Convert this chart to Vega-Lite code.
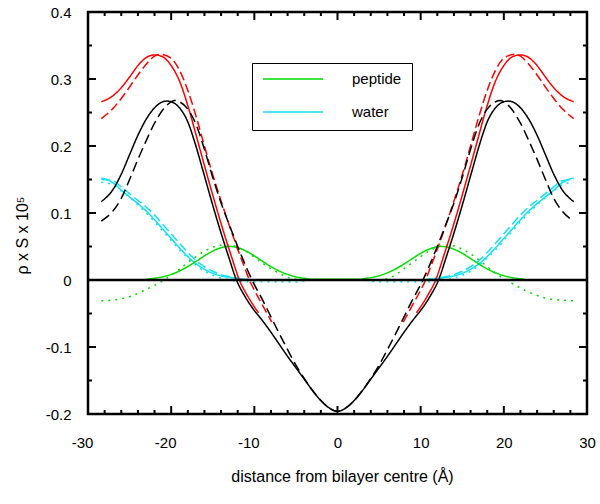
{
  "$schema": "https://vega.github.io/schema/vega-lite/v6.json",
  "width": 499,
  "height": 402,
  "autosize": {"type": "none"},
  "padding": {"left": 88, "top": 12, "right": 13, "bottom": 90},
  "config": {
    "font": "Liberation Sans",
    "view": {"stroke": "black", "strokeWidth": 2.5},
    "rule": {"strokeWidth": 2, "color": "black"},
    "axis": {"domain": false, "grid": false, "ticks": false, "labelFontSize": 15, "labelColor": "black", "titleFontSize": 16, "titleFontWeight": "normal", "titleColor": "black", "labelFont": "Liberation Sans", "titleFont": "Liberation Sans", "labelFlush": false, "labelOverlap": false}
  },
  "datasets": {
    "curves": [
    {"s":"water-dot","x":-28.4,"y":0.146},{"s":"water-dot","x":-27,"y":0.142},{"s":"water-dot","x":-26,"y":0.133},{"s":"water-dot","x":-25,"y":0.123},{"s":"water-dot","x":-24,"y":0.112},{"s":"water-dot","x":-23,"y":0.100},{"s":"water-dot","x":-22,"y":0.087},{"s":"water-dot","x":-21,"y":0.073},{"s":"water-dot","x":-20,"y":0.059},{"s":"water-dot","x":-19,"y":0.045},{"s":"water-dot","x":-18,"y":0.033},{"s":"water-dot","x":-17,"y":0.022},{"s":"water-dot","x":-16,"y":0.013},{"s":"water-dot","x":-15,"y":0.007},{"s":"water-dot","x":-14,"y":0.003},{"s":"water-dot","x":-13,"y":0.0},{"s":"water-dot","x":-12,"y":-0.002},{"s":"water-dot","x":-11,"y":-0.003},{"s":"water-dot","x":-5,"y":-0.003},{"s":"water-dot","x":-3,"y":0},{"s":"water-dot","x":3,"y":0},{"s":"water-dot","x":5,"y":-0.003},{"s":"water-dot","x":11,"y":-0.003},{"s":"water-dot","x":12,"y":-0.002},{"s":"water-dot","x":13,"y":0.0},{"s":"water-dot","x":14,"y":0.003},{"s":"water-dot","x":15,"y":0.007},{"s":"water-dot","x":16,"y":0.013},{"s":"water-dot","x":17,"y":0.022},{"s":"water-dot","x":18,"y":0.033},{"s":"water-dot","x":19,"y":0.045},{"s":"water-dot","x":20,"y":0.059},{"s":"water-dot","x":21,"y":0.073},{"s":"water-dot","x":22,"y":0.087},{"s":"water-dot","x":23,"y":0.100},{"s":"water-dot","x":24,"y":0.112},{"s":"water-dot","x":25,"y":0.123},{"s":"water-dot","x":26,"y":0.133},{"s":"water-dot","x":27,"y":0.142},{"s":"water-dot","x":28.4,"y":0.146},

    {"s":"peptide-dot","x":-28.4,"y":-0.031},{"s":"peptide-dot","x":-27,"y":-0.030},{"s":"peptide-dot","x":-26,"y":-0.028},{"s":"peptide-dot","x":-25,"y":-0.025},{"s":"peptide-dot","x":-24,"y":-0.020},{"s":"peptide-dot","x":-23,"y":-0.014},{"s":"peptide-dot","x":-22,"y":-0.008},{"s":"peptide-dot","x":-21,"y":-0.001},{"s":"peptide-dot","x":-20,"y":0.007},{"s":"peptide-dot","x":-19,"y":0.016},{"s":"peptide-dot","x":-18,"y":0.026},{"s":"peptide-dot","x":-17,"y":0.035},{"s":"peptide-dot","x":-16,"y":0.043},{"s":"peptide-dot","x":-15,"y":0.049},{"s":"peptide-dot","x":-14,"y":0.052},{"s":"peptide-dot","x":-13,"y":0.052},{"s":"peptide-dot","x":-12,"y":0.049},{"s":"peptide-dot","x":-11,"y":0.043},{"s":"peptide-dot","x":-10,"y":0.034},{"s":"peptide-dot","x":-9,"y":0.025},{"s":"peptide-dot","x":-8,"y":0.017},{"s":"peptide-dot","x":-7,"y":0.010},{"s":"peptide-dot","x":-6,"y":0.004},{"s":"peptide-dot","x":-5,"y":0.001},{"s":"peptide-dot","x":-4,"y":0},{"s":"peptide-dot","x":5,"y":0},{"s":"peptide-dot","x":6,"y":0.002},{"s":"peptide-dot","x":7,"y":0.008},{"s":"peptide-dot","x":8,"y":0.017},{"s":"peptide-dot","x":9,"y":0.026},{"s":"peptide-dot","x":10,"y":0.035},{"s":"peptide-dot","x":11,"y":0.043},{"s":"peptide-dot","x":12,"y":0.049},{"s":"peptide-dot","x":13,"y":0.052},{"s":"peptide-dot","x":14,"y":0.051},{"s":"peptide-dot","x":15,"y":0.046},{"s":"peptide-dot","x":16,"y":0.039},{"s":"peptide-dot","x":17,"y":0.030},{"s":"peptide-dot","x":18,"y":0.020},{"s":"peptide-dot","x":19,"y":0.010},{"s":"peptide-dot","x":20,"y":0.002},{"s":"peptide-dot","x":21,"y":-0.005},{"s":"peptide-dot","x":22,"y":-0.012},{"s":"peptide-dot","x":23,"y":-0.018},{"s":"peptide-dot","x":24,"y":-0.023},{"s":"peptide-dot","x":25,"y":-0.027},{"s":"peptide-dot","x":26,"y":-0.029},{"s":"peptide-dot","x":27,"y":-0.030},{"s":"peptide-dot","x":28.4,"y":-0.031},

    {"s":"water-dash","x":-28.4,"y":0.150},{"s":"water-dash","x":-27,"y":0.148},{"s":"water-dash","x":-26,"y":0.139},{"s":"water-dash","x":-25,"y":0.129},{"s":"water-dash","x":-24,"y":0.119},{"s":"water-dash","x":-23,"y":0.109},{"s":"water-dash","x":-22,"y":0.097},{"s":"water-dash","x":-21,"y":0.083},{"s":"water-dash","x":-20,"y":0.069},{"s":"water-dash","x":-19,"y":0.055},{"s":"water-dash","x":-18,"y":0.041},{"s":"water-dash","x":-17,"y":0.029},{"s":"water-dash","x":-16,"y":0.020},{"s":"water-dash","x":-15,"y":0.013},{"s":"water-dash","x":-14,"y":0.008},{"s":"water-dash","x":-13,"y":0.005},{"s":"water-dash","x":-12,"y":0.003},{"s":"water-dash","x":-11,"y":0.001},{"s":"water-dash","x":-10,"y":0},{"s":"water-dash","x":10,"y":0},{"s":"water-dash","x":11,"y":0.001},{"s":"water-dash","x":12,"y":0.003},{"s":"water-dash","x":13,"y":0.005},{"s":"water-dash","x":14,"y":0.008},{"s":"water-dash","x":15,"y":0.013},{"s":"water-dash","x":16,"y":0.020},{"s":"water-dash","x":17,"y":0.029},{"s":"water-dash","x":18,"y":0.041},{"s":"water-dash","x":19,"y":0.055},{"s":"water-dash","x":20,"y":0.069},{"s":"water-dash","x":21,"y":0.083},{"s":"water-dash","x":22,"y":0.097},{"s":"water-dash","x":23,"y":0.109},{"s":"water-dash","x":24,"y":0.119},{"s":"water-dash","x":25,"y":0.129},{"s":"water-dash","x":26,"y":0.139},{"s":"water-dash","x":27,"y":0.148},{"s":"water-dash","x":28.4,"y":0.150},

    {"s":"water","x":-28.4,"y":0.152},{"s":"water","x":-28,"y":0.151},{"s":"water","x":-27,"y":0.145},{"s":"water","x":-26,"y":0.134},{"s":"water","x":-25,"y":0.124},{"s":"water","x":-24,"y":0.114},{"s":"water","x":-23,"y":0.103},{"s":"water","x":-22,"y":0.090},{"s":"water","x":-21,"y":0.076},{"s":"water","x":-20,"y":0.062},{"s":"water","x":-19,"y":0.048},{"s":"water","x":-18,"y":0.035},{"s":"water","x":-17,"y":0.024},{"s":"water","x":-16,"y":0.016},{"s":"water","x":-15,"y":0.010},{"s":"water","x":-14,"y":0.006},{"s":"water","x":-13,"y":0.004},{"s":"water","x":-12,"y":0.002},{"s":"water","x":-11,"y":0.001},{"s":"water","x":-10,"y":0},{"s":"water","x":10,"y":0},{"s":"water","x":11,"y":0.001},{"s":"water","x":12,"y":0.002},{"s":"water","x":13,"y":0.004},{"s":"water","x":14,"y":0.006},{"s":"water","x":15,"y":0.010},{"s":"water","x":16,"y":0.016},{"s":"water","x":17,"y":0.024},{"s":"water","x":18,"y":0.035},{"s":"water","x":19,"y":0.048},{"s":"water","x":20,"y":0.062},{"s":"water","x":21,"y":0.076},{"s":"water","x":22,"y":0.090},{"s":"water","x":23,"y":0.103},{"s":"water","x":24,"y":0.114},{"s":"water","x":25,"y":0.124},{"s":"water","x":26,"y":0.134},{"s":"water","x":27,"y":0.145},{"s":"water","x":28,"y":0.151},{"s":"water","x":28.4,"y":0.152},

    {"s":"peptide","x":-23,"y":0.001},{"s":"peptide","x":-22,"y":0.0026},{"s":"peptide","x":-21,"y":0.0048},{"s":"peptide","x":-20,"y":0.0084},{"s":"peptide","x":-19,"y":0.0134},{"s":"peptide","x":-18,"y":0.0201},{"s":"peptide","x":-17,"y":0.0279},{"s":"peptide","x":-16,"y":0.036},{"s":"peptide","x":-15,"y":0.0432},{"s":"peptide","x":-14,"y":0.0482},{"s":"peptide","x":-13,"y":0.05},{"s":"peptide","x":-12,"y":0.0482},{"s":"peptide","x":-11,"y":0.0432},{"s":"peptide","x":-10,"y":0.036},{"s":"peptide","x":-9,"y":0.0279},{"s":"peptide","x":-8,"y":0.0201},{"s":"peptide","x":-7,"y":0.0134},{"s":"peptide","x":-6,"y":0.0084},{"s":"peptide","x":-5,"y":0.0048},{"s":"peptide","x":-4,"y":0.0026},{"s":"peptide","x":-3,"y":0.001},{"s":"peptide","x":2.5,"y":0.001},{"s":"peptide","x":3.5,"y":0.0026},{"s":"peptide","x":4.5,"y":0.0048},{"s":"peptide","x":5.5,"y":0.0084},{"s":"peptide","x":6.5,"y":0.0134},{"s":"peptide","x":7.5,"y":0.0201},{"s":"peptide","x":8.5,"y":0.0279},{"s":"peptide","x":9.5,"y":0.036},{"s":"peptide","x":10.5,"y":0.0432},{"s":"peptide","x":11.5,"y":0.0482},{"s":"peptide","x":12.5,"y":0.05},{"s":"peptide","x":13.5,"y":0.0482},{"s":"peptide","x":14.5,"y":0.0432},{"s":"peptide","x":15.5,"y":0.036},{"s":"peptide","x":16.5,"y":0.0279},{"s":"peptide","x":17.5,"y":0.0201},{"s":"peptide","x":18.5,"y":0.0134},{"s":"peptide","x":19.5,"y":0.0084},{"s":"peptide","x":20.5,"y":0.0048},{"s":"peptide","x":21.5,"y":0.0026},{"s":"peptide","x":22.5,"y":0.001},

    {"s":"red-dash","x":-28.4,"y":0.241},{"s":"red-dash","x":-27,"y":0.256},{"s":"red-dash","x":-26,"y":0.271},{"s":"red-dash","x":-25,"y":0.288},{"s":"red-dash","x":-24,"y":0.306},{"s":"red-dash","x":-23,"y":0.322},{"s":"red-dash","x":-22,"y":0.334},{"s":"red-dash","x":-21.3,"y":0.337},{"s":"red-dash","x":-20,"y":0.331},{"s":"red-dash","x":-19,"y":0.313},{"s":"red-dash","x":-18,"y":0.283},{"s":"red-dash","x":-17,"y":0.244},{"s":"red-dash","x":-16,"y":0.200},{"s":"red-dash","x":-15,"y":0.157},{"s":"red-dash","x":-14,"y":0.118},{"s":"red-dash","x":-13,"y":0.081},{"s":"red-dash","x":-12,"y":0.046},{"s":"red-dash","x":-11,"y":0.013},{"s":"red-dash","x":-10.6,"y":0.0},{"s":"red-dash","x":-10,"y":-0.015},{"s":"red-dash","x":-9,"y":-0.038},{"s":"red-dash","x":-7.9,"y":-0.063},
    {"s":"red-dash","d":"R","x":7.9,"y":-0.063},{"s":"red-dash","d":"R","x":9,"y":-0.038},{"s":"red-dash","d":"R","x":10,"y":-0.015},{"s":"red-dash","d":"R","x":10.6,"y":0.0},{"s":"red-dash","d":"R","x":11,"y":0.013},{"s":"red-dash","d":"R","x":12,"y":0.046},{"s":"red-dash","d":"R","x":13,"y":0.081},{"s":"red-dash","d":"R","x":14,"y":0.118},{"s":"red-dash","d":"R","x":15,"y":0.157},{"s":"red-dash","d":"R","x":16,"y":0.200},{"s":"red-dash","d":"R","x":17,"y":0.244},{"s":"red-dash","d":"R","x":18,"y":0.283},{"s":"red-dash","d":"R","x":19,"y":0.313},{"s":"red-dash","d":"R","x":20,"y":0.331},{"s":"red-dash","d":"R","x":21.3,"y":0.337},{"s":"red-dash","d":"R","x":22,"y":0.334},{"s":"red-dash","d":"R","x":23,"y":0.322},{"s":"red-dash","d":"R","x":24,"y":0.306},{"s":"red-dash","d":"R","x":25,"y":0.288},{"s":"red-dash","d":"R","x":26,"y":0.271},{"s":"red-dash","d":"R","x":27,"y":0.256},{"s":"red-dash","d":"R","x":28.4,"y":0.241},

    {"s":"red","x":-28.4,"y":0.266},{"s":"red","x":-27,"y":0.275},{"s":"red","x":-26,"y":0.287},{"s":"red","x":-25,"y":0.303},{"s":"red","x":-24,"y":0.320},{"s":"red","x":-23,"y":0.332},{"s":"red","x":-22,"y":0.336},{"s":"red","x":-21,"y":0.333},{"s":"red","x":-20,"y":0.320},{"s":"red","x":-19,"y":0.297},{"s":"red","x":-17.8,"y":0.252},{"s":"red","x":-16.8,"y":0.207},{"s":"red","x":-15.8,"y":0.162},{"s":"red","x":-14.8,"y":0.118},{"s":"red","x":-13.8,"y":0.076},{"s":"red","x":-12.8,"y":0.037},{"s":"red","x":-11.8,"y":0.0},{"s":"red","x":-10.8,"y":-0.024},{"s":"red","x":-9.5,"y":-0.049},
    {"s":"red","d":"R","x":9.5,"y":-0.049},{"s":"red","d":"R","x":10.8,"y":-0.024},{"s":"red","d":"R","x":11.8,"y":0.0},{"s":"red","d":"R","x":12.8,"y":0.037},{"s":"red","d":"R","x":13.8,"y":0.076},{"s":"red","d":"R","x":14.8,"y":0.118},{"s":"red","d":"R","x":15.8,"y":0.162},{"s":"red","d":"R","x":16.8,"y":0.207},{"s":"red","d":"R","x":17.8,"y":0.252},{"s":"red","d":"R","x":19,"y":0.297},{"s":"red","d":"R","x":20,"y":0.320},{"s":"red","d":"R","x":21,"y":0.333},{"s":"red","d":"R","x":22,"y":0.336},{"s":"red","d":"R","x":23,"y":0.332},{"s":"red","d":"R","x":24,"y":0.320},{"s":"red","d":"R","x":25,"y":0.303},{"s":"red","d":"R","x":26,"y":0.287},{"s":"red","d":"R","x":27,"y":0.275},{"s":"red","d":"R","x":28.4,"y":0.266},

    {"s":"black-dash","x":-28.4,"y":0.088},{"s":"black-dash","x":-27,"y":0.103},{"s":"black-dash","x":-26,"y":0.122},{"s":"black-dash","x":-25,"y":0.150},{"s":"black-dash","x":-24,"y":0.180},{"s":"black-dash","x":-23,"y":0.208},{"s":"black-dash","x":-22,"y":0.234},{"s":"black-dash","x":-21,"y":0.254},{"s":"black-dash","x":-20,"y":0.266},{"s":"black-dash","x":-19.6,"y":0.268},{"s":"black-dash","x":-19,"y":0.266},{"s":"black-dash","x":-18,"y":0.255},{"s":"black-dash","x":-17,"y":0.232},{"s":"black-dash","x":-16,"y":0.195},{"s":"black-dash","x":-15,"y":0.153},{"s":"black-dash","x":-14,"y":0.115},{"s":"black-dash","x":-13,"y":0.082},{"s":"black-dash","x":-12,"y":0.050},{"s":"black-dash","x":-11,"y":0.020},{"s":"black-dash","x":-10.2,"y":-0.002},{"s":"black-dash","x":-9,"y":-0.030},{"s":"black-dash","x":-8,"y":-0.055},{"s":"black-dash","x":-7,"y":-0.080},{"s":"black-dash","x":-6,"y":-0.104},{"s":"black-dash","x":-5,"y":-0.127},{"s":"black-dash","x":-4,"y":-0.147},{"s":"black-dash","x":-3,"y":-0.165},{"s":"black-dash","x":-2,"y":-0.180},{"s":"black-dash","x":-1,"y":-0.191},{"s":"black-dash","x":0,"y":-0.196},{"s":"black-dash","x":1,"y":-0.191},{"s":"black-dash","x":2,"y":-0.180},{"s":"black-dash","x":3,"y":-0.165},{"s":"black-dash","x":4,"y":-0.147},{"s":"black-dash","x":5,"y":-0.127},{"s":"black-dash","x":6,"y":-0.104},{"s":"black-dash","x":7,"y":-0.080},{"s":"black-dash","x":8,"y":-0.055},{"s":"black-dash","x":9,"y":-0.030},{"s":"black-dash","x":10.2,"y":-0.002},{"s":"black-dash","x":11,"y":0.020},{"s":"black-dash","x":12,"y":0.050},{"s":"black-dash","x":13,"y":0.082},{"s":"black-dash","x":14,"y":0.115},{"s":"black-dash","x":15,"y":0.153},{"s":"black-dash","x":16,"y":0.195},{"s":"black-dash","x":17,"y":0.232},{"s":"black-dash","x":18,"y":0.255},{"s":"black-dash","x":19,"y":0.266},{"s":"black-dash","x":19.6,"y":0.268},{"s":"black-dash","x":20,"y":0.266},{"s":"black-dash","x":21,"y":0.254},{"s":"black-dash","x":22,"y":0.234},{"s":"black-dash","x":23,"y":0.208},{"s":"black-dash","x":24,"y":0.180},{"s":"black-dash","x":25,"y":0.150},{"s":"black-dash","x":26,"y":0.122},{"s":"black-dash","x":27,"y":0.103},{"s":"black-dash","x":28.4,"y":0.088},

    {"s":"black","x":-28.4,"y":0.117},{"s":"black","x":-27,"y":0.135},{"s":"black","x":-26,"y":0.158},{"s":"black","x":-25,"y":0.187},{"s":"black","x":-24,"y":0.216},{"s":"black","x":-23,"y":0.240},{"s":"black","x":-22,"y":0.257},{"s":"black","x":-21,"y":0.266},{"s":"black","x":-20.5,"y":0.267},{"s":"black","x":-20,"y":0.266},{"s":"black","x":-19,"y":0.257},{"s":"black","x":-18,"y":0.236},{"s":"black","x":-17.15,"y":0.205},{"s":"black","x":-16.15,"y":0.162},{"s":"black","x":-15.15,"y":0.118},{"s":"black","x":-14.15,"y":0.076},{"s":"black","x":-13.15,"y":0.037},{"s":"black","x":-12.15,"y":0.0},{"s":"black","x":-11.15,"y":-0.024},{"s":"black","x":-10.15,"y":-0.043},{"s":"black","x":-9,"y":-0.061},{"s":"black","x":-8,"y":-0.078},{"s":"black","x":-7,"y":-0.096},{"s":"black","x":-6,"y":-0.114},{"s":"black","x":-5,"y":-0.131},{"s":"black","x":-4,"y":-0.148},{"s":"black","x":-3,"y":-0.165},{"s":"black","x":-2,"y":-0.180},{"s":"black","x":-1,"y":-0.191},{"s":"black","x":0,"y":-0.196},{"s":"black","x":1,"y":-0.191},{"s":"black","x":2,"y":-0.180},{"s":"black","x":3,"y":-0.165},{"s":"black","x":4,"y":-0.148},{"s":"black","x":5,"y":-0.131},{"s":"black","x":6,"y":-0.114},{"s":"black","x":7,"y":-0.096},{"s":"black","x":8,"y":-0.078},{"s":"black","x":9,"y":-0.061},{"s":"black","x":10.15,"y":-0.043},{"s":"black","x":11.15,"y":-0.024},{"s":"black","x":12.15,"y":0.0},{"s":"black","x":13.15,"y":0.037},{"s":"black","x":14.15,"y":0.076},{"s":"black","x":15.15,"y":0.118},{"s":"black","x":16.15,"y":0.162},{"s":"black","x":17.15,"y":0.205},{"s":"black","x":18,"y":0.236},{"s":"black","x":19,"y":0.257},{"s":"black","x":20,"y":0.266},{"s":"black","x":20.5,"y":0.267},{"s":"black","x":21,"y":0.266},{"s":"black","x":22,"y":0.257},{"s":"black","x":23,"y":0.240},{"s":"black","x":24,"y":0.216},{"s":"black","x":25,"y":0.187},{"s":"black","x":26,"y":0.158},{"s":"black","x":27,"y":0.135},{"s":"black","x":28.4,"y":0.117}
    ]
  },
  "layer": [
    {
      "data": {"name": "curves"},
      "mark": {"type": "line", "interpolate": "monotone", "strokeWidth": 1.5},
      "encoding": {
        "x": {"field": "x", "type": "quantitative", "scale": {"domain": [-30, 30], "nice": false, "zero": false},
          "axis": {"orient": "bottom", "values": [-30, -20, -10, 0, 10, 20, 30], "labelPadding": 33, "labelBaseline": "alphabetic",
            "labelOffset": {"condition": {"test": "datum.value < 0", "value": -6}, "value": 0},
            "labelExpr": "datum.value < 0 ? '-' + format(-datum.value, 'd') : format(datum.value, 'd')",
            "title": "distance from bilayer centre (Å)", "titleX": 254, "titleY": 67, "titleAlign": "center", "titleBaseline": "alphabetic"}},
        "y": {"field": "y", "type": "quantitative", "scale": {"domain": [-0.2, 0.4], "nice": false, "zero": false},
          "axis": {"orient": "left", "values": [-0.2, -0.1, 0, 0.1, 0.2, 0.3, 0.4], "labelPadding": 17, "labelBaseline": "middle",
            "labelExpr": "datum.value < 0 ? '-' + format(-datum.value, '~g') : format(datum.value, '~g')",
            "title": "ρ x S x 10⁵", "titleAngle": -90, "titleX": -61, "titleY": 223, "titleAlign": "center", "titleBaseline": "alphabetic"}},
        "color": {"field": "s", "type": "nominal",
          "scale": {"domain": ["water-dot", "peptide-dot", "water-dash", "water", "peptide", "red-dash", "red", "black-dash", "black"],
            "range": ["#10e0f0", "#00dd00", "#10e0f0", "#10e0f0", "#00dd00", "#ff0000", "#ff0000", "#000000", "#000000"]},
          "legend": {"values": ["peptide", "water"], "title": null, "orient": "none", "legendX": 164, "legendY": 51, "symbolType": "stroke", "symbolSize": 3600, "symbolStrokeWidth": 1.5, "clipHeight": 12, "labelFontSize": 15, "labelColor": "black", "labelOffset": 28, "padding": 10, "strokeColor": "black", "fillColor": "white", "rowPadding": 18}},
        "strokeDash": {"field": "s", "type": "nominal",
          "scale": {"domain": ["water-dot", "peptide-dot", "water-dash", "water", "peptide", "red-dash", "red", "black-dash", "black"],
            "range": [[2, 5], [2, 5], [9, 4], [1, 0], [1, 0], [9, 4], [1, 0], [10, 5], [1, 0]]},
          "legend": null},
        "detail": {"field": "d"}
      }
    },
    {
      "data": {"values": [{"k": "zero"}]},
      "mark": {"type": "rule", "strokeWidth": 2.5, "color": "black"},
      "encoding": {
        "x": {"datum": -30, "type": "quantitative"},
        "x2": {"datum": 30},
        "y": {"datum": 0, "type": "quantitative"}
      }
    },
    {
      "data": {"values": [{"k": "tick"}]},
      "layer": [
        {"mark": "rule", "encoding": {"x": {"datum": -20, "type": "quantitative"}, "y": {"datum": -0.2, "type": "quantitative"}, "y2": {"datum": -0.188}}},
        {"mark": "rule", "encoding": {"x": {"datum": -10, "type": "quantitative"}, "y": {"datum": -0.2, "type": "quantitative"}, "y2": {"datum": -0.188}}},
        {"mark": "rule", "encoding": {"x": {"datum": 0, "type": "quantitative"}, "y": {"datum": -0.2, "type": "quantitative"}, "y2": {"datum": -0.188}}},
        {"mark": "rule", "encoding": {"x": {"datum": 10, "type": "quantitative"}, "y": {"datum": -0.2, "type": "quantitative"}, "y2": {"datum": -0.188}}},
        {"mark": "rule", "encoding": {"x": {"datum": 20, "type": "quantitative"}, "y": {"datum": -0.2, "type": "quantitative"}, "y2": {"datum": -0.188}}},
        {"mark": "rule", "encoding": {"x": {"datum": -20, "type": "quantitative"}, "y": {"datum": 0.4, "type": "quantitative"}, "y2": {"datum": 0.388}}},
        {"mark": "rule", "encoding": {"x": {"datum": -10, "type": "quantitative"}, "y": {"datum": 0.4, "type": "quantitative"}, "y2": {"datum": 0.388}}},
        {"mark": "rule", "encoding": {"x": {"datum": 0, "type": "quantitative"}, "y": {"datum": 0.4, "type": "quantitative"}, "y2": {"datum": 0.388}}},
        {"mark": "rule", "encoding": {"x": {"datum": 10, "type": "quantitative"}, "y": {"datum": 0.4, "type": "quantitative"}, "y2": {"datum": 0.388}}},
        {"mark": "rule", "encoding": {"x": {"datum": 20, "type": "quantitative"}, "y": {"datum": 0.4, "type": "quantitative"}, "y2": {"datum": 0.388}}},

        {"mark": "rule", "encoding": {"x": {"datum": -28, "type": "quantitative"}, "y": {"datum": -0.2, "type": "quantitative"}, "y2": {"datum": -0.194}}},
        {"mark": "rule", "encoding": {"x": {"datum": -26, "type": "quantitative"}, "y": {"datum": -0.2, "type": "quantitative"}, "y2": {"datum": -0.194}}},
        {"mark": "rule", "encoding": {"x": {"datum": -24, "type": "quantitative"}, "y": {"datum": -0.2, "type": "quantitative"}, "y2": {"datum": -0.194}}},
        {"mark": "rule", "encoding": {"x": {"datum": -22, "type": "quantitative"}, "y": {"datum": -0.2, "type": "quantitative"}, "y2": {"datum": -0.194}}},
        {"mark": "rule", "encoding": {"x": {"datum": -18, "type": "quantitative"}, "y": {"datum": -0.2, "type": "quantitative"}, "y2": {"datum": -0.194}}},
        {"mark": "rule", "encoding": {"x": {"datum": -16, "type": "quantitative"}, "y": {"datum": -0.2, "type": "quantitative"}, "y2": {"datum": -0.194}}},
        {"mark": "rule", "encoding": {"x": {"datum": -14, "type": "quantitative"}, "y": {"datum": -0.2, "type": "quantitative"}, "y2": {"datum": -0.194}}},
        {"mark": "rule", "encoding": {"x": {"datum": -12, "type": "quantitative"}, "y": {"datum": -0.2, "type": "quantitative"}, "y2": {"datum": -0.194}}},
        {"mark": "rule", "encoding": {"x": {"datum": -8, "type": "quantitative"}, "y": {"datum": -0.2, "type": "quantitative"}, "y2": {"datum": -0.194}}},
        {"mark": "rule", "encoding": {"x": {"datum": -6, "type": "quantitative"}, "y": {"datum": -0.2, "type": "quantitative"}, "y2": {"datum": -0.194}}},
        {"mark": "rule", "encoding": {"x": {"datum": -4, "type": "quantitative"}, "y": {"datum": -0.2, "type": "quantitative"}, "y2": {"datum": -0.194}}},
        {"mark": "rule", "encoding": {"x": {"datum": -2, "type": "quantitative"}, "y": {"datum": -0.2, "type": "quantitative"}, "y2": {"datum": -0.194}}},
        {"mark": "rule", "encoding": {"x": {"datum": 2, "type": "quantitative"}, "y": {"datum": -0.2, "type": "quantitative"}, "y2": {"datum": -0.194}}},
        {"mark": "rule", "encoding": {"x": {"datum": 4, "type": "quantitative"}, "y": {"datum": -0.2, "type": "quantitative"}, "y2": {"datum": -0.194}}},
        {"mark": "rule", "encoding": {"x": {"datum": 6, "type": "quantitative"}, "y": {"datum": -0.2, "type": "quantitative"}, "y2": {"datum": -0.194}}},
        {"mark": "rule", "encoding": {"x": {"datum": 8, "type": "quantitative"}, "y": {"datum": -0.2, "type": "quantitative"}, "y2": {"datum": -0.194}}},
        {"mark": "rule", "encoding": {"x": {"datum": 12, "type": "quantitative"}, "y": {"datum": -0.2, "type": "quantitative"}, "y2": {"datum": -0.194}}},
        {"mark": "rule", "encoding": {"x": {"datum": 14, "type": "quantitative"}, "y": {"datum": -0.2, "type": "quantitative"}, "y2": {"datum": -0.194}}},
        {"mark": "rule", "encoding": {"x": {"datum": 16, "type": "quantitative"}, "y": {"datum": -0.2, "type": "quantitative"}, "y2": {"datum": -0.194}}},
        {"mark": "rule", "encoding": {"x": {"datum": 18, "type": "quantitative"}, "y": {"datum": -0.2, "type": "quantitative"}, "y2": {"datum": -0.194}}},
        {"mark": "rule", "encoding": {"x": {"datum": 22, "type": "quantitative"}, "y": {"datum": -0.2, "type": "quantitative"}, "y2": {"datum": -0.194}}},
        {"mark": "rule", "encoding": {"x": {"datum": 24, "type": "quantitative"}, "y": {"datum": -0.2, "type": "quantitative"}, "y2": {"datum": -0.194}}},
        {"mark": "rule", "encoding": {"x": {"datum": 26, "type": "quantitative"}, "y": {"datum": -0.2, "type": "quantitative"}, "y2": {"datum": -0.194}}},
        {"mark": "rule", "encoding": {"x": {"datum": 28, "type": "quantitative"}, "y": {"datum": -0.2, "type": "quantitative"}, "y2": {"datum": -0.194}}},

        {"mark": "rule", "encoding": {"x": {"datum": -28, "type": "quantitative"}, "y": {"datum": 0.4, "type": "quantitative"}, "y2": {"datum": 0.394}}},
        {"mark": "rule", "encoding": {"x": {"datum": -26, "type": "quantitative"}, "y": {"datum": 0.4, "type": "quantitative"}, "y2": {"datum": 0.394}}},
        {"mark": "rule", "encoding": {"x": {"datum": -24, "type": "quantitative"}, "y": {"datum": 0.4, "type": "quantitative"}, "y2": {"datum": 0.394}}},
        {"mark": "rule", "encoding": {"x": {"datum": -22, "type": "quantitative"}, "y": {"datum": 0.4, "type": "quantitative"}, "y2": {"datum": 0.394}}},
        {"mark": "rule", "encoding": {"x": {"datum": -18, "type": "quantitative"}, "y": {"datum": 0.4, "type": "quantitative"}, "y2": {"datum": 0.394}}},
        {"mark": "rule", "encoding": {"x": {"datum": -16, "type": "quantitative"}, "y": {"datum": 0.4, "type": "quantitative"}, "y2": {"datum": 0.394}}},
        {"mark": "rule", "encoding": {"x": {"datum": -14, "type": "quantitative"}, "y": {"datum": 0.4, "type": "quantitative"}, "y2": {"datum": 0.394}}},
        {"mark": "rule", "encoding": {"x": {"datum": -12, "type": "quantitative"}, "y": {"datum": 0.4, "type": "quantitative"}, "y2": {"datum": 0.394}}},
        {"mark": "rule", "encoding": {"x": {"datum": -8, "type": "quantitative"}, "y": {"datum": 0.4, "type": "quantitative"}, "y2": {"datum": 0.394}}},
        {"mark": "rule", "encoding": {"x": {"datum": -6, "type": "quantitative"}, "y": {"datum": 0.4, "type": "quantitative"}, "y2": {"datum": 0.394}}},
        {"mark": "rule", "encoding": {"x": {"datum": -4, "type": "quantitative"}, "y": {"datum": 0.4, "type": "quantitative"}, "y2": {"datum": 0.394}}},
        {"mark": "rule", "encoding": {"x": {"datum": -2, "type": "quantitative"}, "y": {"datum": 0.4, "type": "quantitative"}, "y2": {"datum": 0.394}}},
        {"mark": "rule", "encoding": {"x": {"datum": 2, "type": "quantitative"}, "y": {"datum": 0.4, "type": "quantitative"}, "y2": {"datum": 0.394}}},
        {"mark": "rule", "encoding": {"x": {"datum": 4, "type": "quantitative"}, "y": {"datum": 0.4, "type": "quantitative"}, "y2": {"datum": 0.394}}},
        {"mark": "rule", "encoding": {"x": {"datum": 6, "type": "quantitative"}, "y": {"datum": 0.4, "type": "quantitative"}, "y2": {"datum": 0.394}}},
        {"mark": "rule", "encoding": {"x": {"datum": 8, "type": "quantitative"}, "y": {"datum": 0.4, "type": "quantitative"}, "y2": {"datum": 0.394}}},
        {"mark": "rule", "encoding": {"x": {"datum": 12, "type": "quantitative"}, "y": {"datum": 0.4, "type": "quantitative"}, "y2": {"datum": 0.394}}},
        {"mark": "rule", "encoding": {"x": {"datum": 14, "type": "quantitative"}, "y": {"datum": 0.4, "type": "quantitative"}, "y2": {"datum": 0.394}}},
        {"mark": "rule", "encoding": {"x": {"datum": 16, "type": "quantitative"}, "y": {"datum": 0.4, "type": "quantitative"}, "y2": {"datum": 0.394}}},
        {"mark": "rule", "encoding": {"x": {"datum": 18, "type": "quantitative"}, "y": {"datum": 0.4, "type": "quantitative"}, "y2": {"datum": 0.394}}},
        {"mark": "rule", "encoding": {"x": {"datum": 22, "type": "quantitative"}, "y": {"datum": 0.4, "type": "quantitative"}, "y2": {"datum": 0.394}}},
        {"mark": "rule", "encoding": {"x": {"datum": 24, "type": "quantitative"}, "y": {"datum": 0.4, "type": "quantitative"}, "y2": {"datum": 0.394}}},
        {"mark": "rule", "encoding": {"x": {"datum": 26, "type": "quantitative"}, "y": {"datum": 0.4, "type": "quantitative"}, "y2": {"datum": 0.394}}},
        {"mark": "rule", "encoding": {"x": {"datum": 28, "type": "quantitative"}, "y": {"datum": 0.4, "type": "quantitative"}, "y2": {"datum": 0.394}}},

        {"mark": "rule", "encoding": {"y": {"datum": -0.1, "type": "quantitative"}, "x": {"datum": -30, "type": "quantitative"}, "x2": {"datum": -29.04}}},
        {"mark": "rule", "encoding": {"y": {"datum": 0, "type": "quantitative"}, "x": {"datum": -30, "type": "quantitative"}, "x2": {"datum": -29.04}}},
        {"mark": "rule", "encoding": {"y": {"datum": 0.1, "type": "quantitative"}, "x": {"datum": -30, "type": "quantitative"}, "x2": {"datum": -29.04}}},
        {"mark": "rule", "encoding": {"y": {"datum": 0.2, "type": "quantitative"}, "x": {"datum": -30, "type": "quantitative"}, "x2": {"datum": -29.04}}},
        {"mark": "rule", "encoding": {"y": {"datum": 0.3, "type": "quantitative"}, "x": {"datum": -30, "type": "quantitative"}, "x2": {"datum": -29.04}}},
        {"mark": "rule", "encoding": {"y": {"datum": -0.1, "type": "quantitative"}, "x": {"datum": 30, "type": "quantitative"}, "x2": {"datum": 29.04}}},
        {"mark": "rule", "encoding": {"y": {"datum": 0, "type": "quantitative"}, "x": {"datum": 30, "type": "quantitative"}, "x2": {"datum": 29.04}}},
        {"mark": "rule", "encoding": {"y": {"datum": 0.1, "type": "quantitative"}, "x": {"datum": 30, "type": "quantitative"}, "x2": {"datum": 29.04}}},
        {"mark": "rule", "encoding": {"y": {"datum": 0.2, "type": "quantitative"}, "x": {"datum": 30, "type": "quantitative"}, "x2": {"datum": 29.04}}},
        {"mark": "rule", "encoding": {"y": {"datum": 0.3, "type": "quantitative"}, "x": {"datum": 30, "type": "quantitative"}, "x2": {"datum": 29.04}}},

        {"mark": "rule", "encoding": {"y": {"datum": -0.15, "type": "quantitative"}, "x": {"datum": -30, "type": "quantitative"}, "x2": {"datum": -29.52}}},
        {"mark": "rule", "encoding": {"y": {"datum": -0.05, "type": "quantitative"}, "x": {"datum": -30, "type": "quantitative"}, "x2": {"datum": -29.52}}},
        {"mark": "rule", "encoding": {"y": {"datum": 0.05, "type": "quantitative"}, "x": {"datum": -30, "type": "quantitative"}, "x2": {"datum": -29.52}}},
        {"mark": "rule", "encoding": {"y": {"datum": 0.15, "type": "quantitative"}, "x": {"datum": -30, "type": "quantitative"}, "x2": {"datum": -29.52}}},
        {"mark": "rule", "encoding": {"y": {"datum": 0.25, "type": "quantitative"}, "x": {"datum": -30, "type": "quantitative"}, "x2": {"datum": -29.52}}},
        {"mark": "rule", "encoding": {"y": {"datum": 0.35, "type": "quantitative"}, "x": {"datum": -30, "type": "quantitative"}, "x2": {"datum": -29.52}}},
        {"mark": "rule", "encoding": {"y": {"datum": -0.15, "type": "quantitative"}, "x": {"datum": 30, "type": "quantitative"}, "x2": {"datum": 29.52}}},
        {"mark": "rule", "encoding": {"y": {"datum": -0.05, "type": "quantitative"}, "x": {"datum": 30, "type": "quantitative"}, "x2": {"datum": 29.52}}},
        {"mark": "rule", "encoding": {"y": {"datum": 0.05, "type": "quantitative"}, "x": {"datum": 30, "type": "quantitative"}, "x2": {"datum": 29.52}}},
        {"mark": "rule", "encoding": {"y": {"datum": 0.15, "type": "quantitative"}, "x": {"datum": 30, "type": "quantitative"}, "x2": {"datum": 29.52}}},
        {"mark": "rule", "encoding": {"y": {"datum": 0.25, "type": "quantitative"}, "x": {"datum": 30, "type": "quantitative"}, "x2": {"datum": 29.52}}},
        {"mark": "rule", "encoding": {"y": {"datum": 0.35, "type": "quantitative"}, "x": {"datum": 30, "type": "quantitative"}, "x2": {"datum": 29.52}}}
      ]
    }
  ]
}
